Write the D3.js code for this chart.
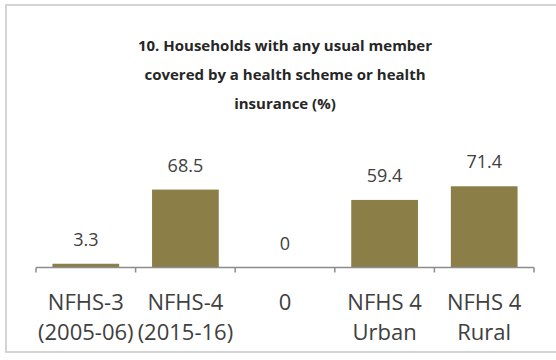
<!DOCTYPE html>
<html>
<head>
<meta charset="utf-8">
<script src="https://cdn.jsdelivr.net/npm/d3@7"></script>
<style>
  html, body { margin: 0; padding: 0; background: #fff; }
  svg { display: block; }
</style>
</head>
<body>
<svg id="chart" width="556" height="360"></svg>
<script>
// Survey rounds shown along the category axis (two-line labels)
const categories = ["NFHS-3|(2005-06)", "NFHS-4|(2015-16)", "0", "NFHS 4|Urban", "NFHS 4|Rural"];
// Percent of households with a member covered by a health scheme or insurance
const values = [3.3, 68.5, 0, 59.4, 71.4];
// Data labels printed above each bar
const valueLabels = ["3.3", "68.5", "0", "59.4", "71.4"];
const titleLines = [
  "10. Households with any usual member",
  "covered by a health scheme or health",
  "insurance (%)"
];

const svg = d3.select("#chart");
const barColor = "#8b7f47";
const textColor = "#404040";
const font = "'Open Sans', 'Noto Sans', sans-serif";

// Chart frame
svg.append("rect")
  .attr("x", 6).attr("y", 5)
  .attr("width", 580).attr("height", 347)
  .attr("fill", "#fff")
  .attr("stroke", "#d4d4d4")
  .attr("stroke-width", 2);

// Scales
const x = d3.scaleBand()
  .domain(categories)
  .range([36, 534])
  .paddingInner(0.33)
  .paddingOuter(0.165);

const y = d3.scaleLinear()
  .domain([0, 80])
  .range([267.5, 176.5]);

// Title
svg.append("g")
  .selectAll("text")
  .data(titleLines)
  .join("text")
  .attr("x", 285)
  .attr("y", (d, i) => 51 + i * 29)
  .attr("text-anchor", "middle")
  .attr("font-family", font)
  .attr("font-weight", "bold")
  .attr("font-size", 15)
  .attr("fill", "#262626")
  .text(d => d);

// Bars
svg.append("g")
  .selectAll("rect")
  .data(values)
  .join("rect")
  .attr("x", (d, i) => x(categories[i]))
  .attr("y", d => y(d))
  .attr("width", x.bandwidth())
  .attr("height", d => y(0) - y(d))
  .attr("fill", barColor);

// Value labels
svg.append("g")
  .selectAll("text")
  .data(values)
  .join("text")
  .attr("x", (d, i) => x(categories[i]) + x.bandwidth() / 2)
  .attr("y", d => y(d) - 18)
  .attr("text-anchor", "middle")
  .attr("font-family", font)
  .attr("font-size", 18)
  .attr("fill", textColor)
  .text((d, i) => valueLabels[i]);

// Category axis with ticks between categories
const step = x.step();
const x0 = x.range()[0];
const axisG = svg.append("g");
axisG.append("line")
  .attr("x1", x0).attr("x2", x.range()[1])
  .attr("y1", y(0)).attr("y2", y(0))
  .attr("stroke", "#8c8c8c").attr("stroke-width", 1.5);
axisG.selectAll("line.tick")
  .data(d3.range(categories.length + 1))
  .join("line")
  .attr("class", "tick")
  .attr("x1", i => x0 + i * step).attr("x2", i => x0 + i * step)
  .attr("y1", y(0)).attr("y2", y(0) + 5)
  .attr("stroke", "#8c8c8c").attr("stroke-width", 1.5);

// Category labels
const catG = svg.append("g")
  .selectAll("text")
  .data(categories)
  .join("text")
  .attr("x", d => x(d) + x.bandwidth() / 2)
  .attr("y", 310)
  .attr("text-anchor", "middle")
  .attr("font-family", font)
  .attr("font-size", 22)
  .attr("fill", textColor);
catG.selectAll("tspan")
  .data(d => d.split("|"))
  .join("tspan")
  .attr("x", function () { return d3.select(this.parentNode).attr("x"); })
  .attr("dy", (d, i) => i === 0 ? 0 : 30)
  .text(d => d);
</script>
</body>
</html>
